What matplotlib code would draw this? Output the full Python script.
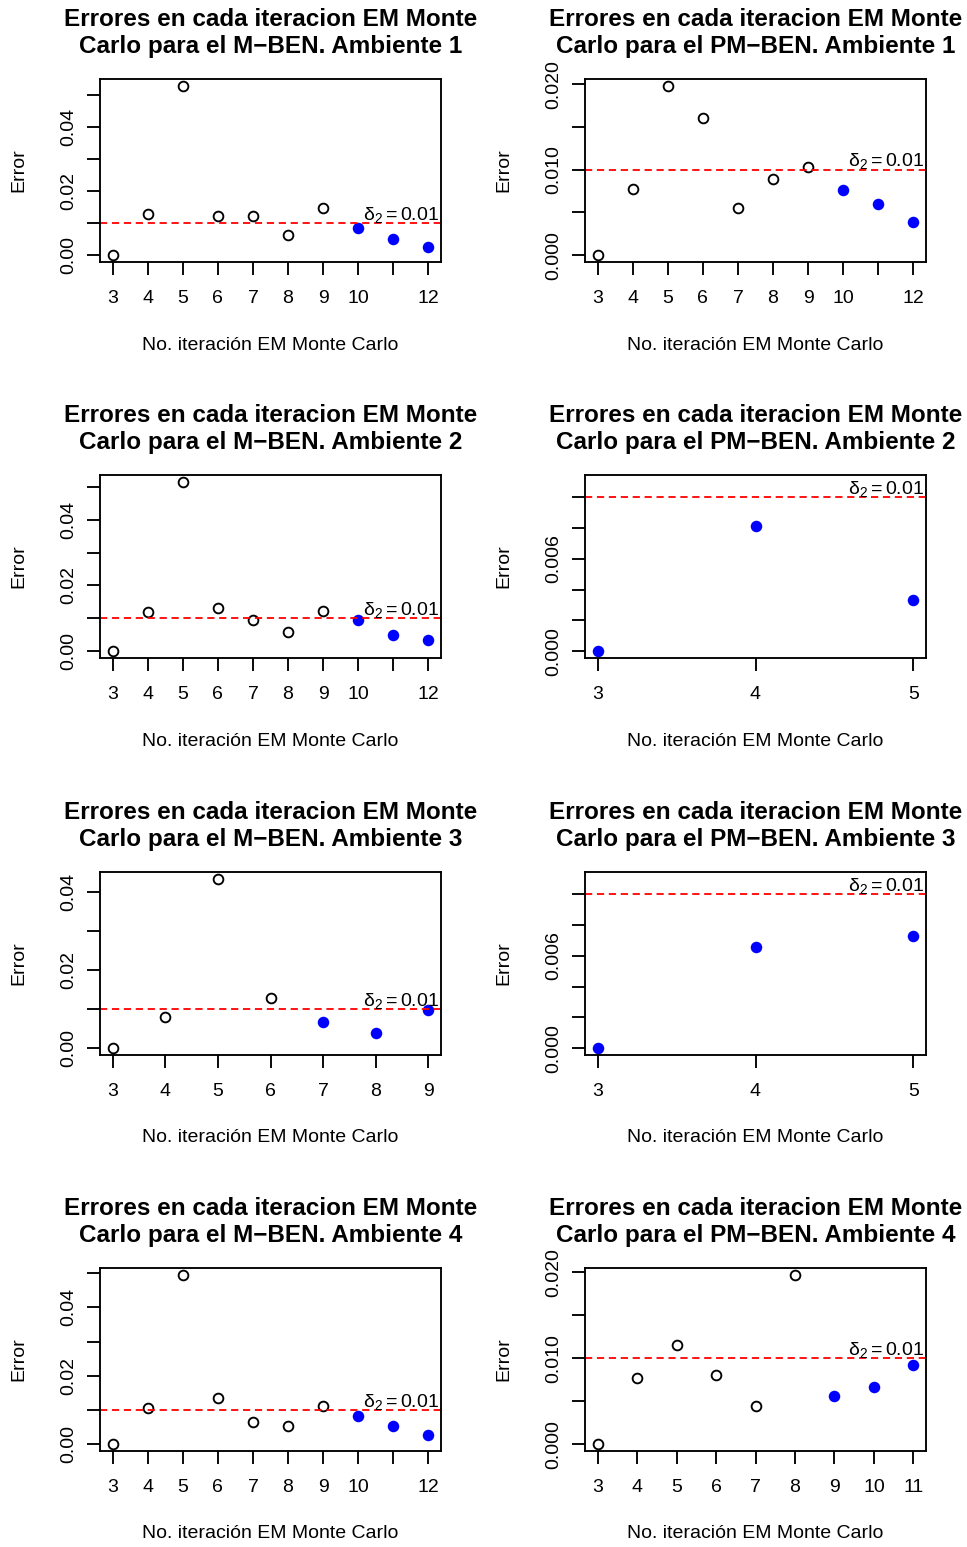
import matplotlib
matplotlib.use("Agg")
import matplotlib.pyplot as plt

plt.rcParams['font.family'] = ['Liberation Sans', 'DejaVu Sans']
plt.rcParams['mathtext.fontset'] = 'custom'
plt.rcParams['mathtext.rm'] = 'Liberation Sans'
plt.rcParams['mathtext.it'] = 'Liberation Sans:italic'

# errores por iteracion EM Monte Carlo (M-BEN y PM-BEN, ambientes 1-4)
iter_m1 = [3, 4, 5, 6, 7, 8, 9, 10, 11, 12]
err_m1 = [0.0, 0.0129, 0.0528, 0.0121, 0.0121, 0.0063, 0.0148, 0.0085, 0.0052, 0.0026]
iter_pm1 = [3, 4, 5, 6, 7, 8, 9, 10, 11, 12]
err_pm1 = [0.0, 0.0077, 0.0198, 0.0160, 0.0055, 0.0089, 0.0103, 0.0076, 0.0060, 0.0039]

iter_m2 = [3, 4, 5, 6, 7, 8, 9, 10, 11, 12]
err_m2 = [0.0, 0.0120, 0.0515, 0.0130, 0.0096, 0.0059, 0.0121, 0.0095, 0.0050, 0.0035]
iter_pm2 = [3, 4, 5]
err_pm2 = [0.0, 0.0081, 0.0033]

iter_m3 = [3, 4, 5, 6, 7, 8, 9]
err_m3 = [0.0, 0.0081, 0.0434, 0.0129, 0.0067, 0.0038, 0.0099]
iter_pm3 = [3, 4, 5]
err_pm3 = [0.0, 0.0066, 0.0073]

iter_m4 = [3, 4, 5, 6, 7, 8, 9, 10, 11, 12]
err_m4 = [0.0, 0.0107, 0.0495, 0.0135, 0.0065, 0.0053, 0.0113, 0.0083, 0.0053, 0.0027]
iter_pm4 = [3, 4, 5, 6, 7, 8, 9, 10, 11]
err_pm4 = [0.0, 0.0077, 0.0115, 0.0081, 0.0045, 0.0197, 0.0056, 0.0066, 0.0092]

delta2 = 0.01
n_final = 3  # ultimas iteraciones (puntos azules)

# ticks del eje y y etiquetas visibles
yt_m = [0.0, 0.01, 0.02, 0.03, 0.04, 0.05]
yl_m = ['0.00', '', '0.02', '', '0.04', '']
yt_pm = [0.0, 0.005, 0.010, 0.015, 0.020]
yl_pm = ['0.000', '', '0.010', '', '0.020']
yt_small = [0.0, 0.002, 0.004, 0.006, 0.008, 0.010]
yl_small = ['0.000', '', '', '0.006', '', '']

W, H = 967, 1547
fig = plt.figure(figsize=(W / 100, H / 100), dpi=100)

col_x = [100, 585]
row_top = [79, 475, 872, 1268]
bw, bh = 341, 183
lw = 1.35


def panel(col, row, xs, ys, tipo, amb, yt, yl, skip11=True):
    x0, y0 = col_x[col], row_top[row]
    ax = fig.add_axes([x0 / W, 1 - (y0 + bh) / H, bw / W, bh / H])

    n = len(xs)
    ax.plot(xs[:n - n_final], ys[:n - n_final], 'o', ms=7.0, mfc='none',
            mec='black', mew=1.35, clip_on=False)
    ax.plot(xs[n - n_final:], ys[n - n_final:], 'o', ms=8.3, color='blue',
            mec='none', clip_on=False)
    ax.axhline(delta2, color='red', lw=1.3, ls=(0, (4.0, 2.6)))
    ax.annotate(r'$\mathrm{\delta}_2 = 0.01$', xy=(0.995, delta2),
                xycoords=('axes fraction', 'data'), xytext=(0, 2.5),
                textcoords='offset points', ha='right', va='baseline',
                fontsize=14)

    # rango estilo R (4% de margen)
    lo, hi = min(xs), max(xs)
    ax.set_xlim(lo - 0.04 * (hi - lo), hi + 0.04 * (hi - lo))
    top = max(max(ys), 0.011)
    ax.set_ylim(-0.04 * top, top * 1.04)

    ax.set_xticks(xs)
    ax.set_xticklabels(['' if (skip11 and x == 11) else str(x) for x in xs])
    ax.set_yticks(yt)
    ax.set_yticklabels(yl, rotation=90, va='center')
    ax.tick_params(direction='out', length=9.2, width=lw, labelsize=14)
    ax.tick_params(axis='x', pad=11)
    ax.tick_params(axis='y', pad=7.5)
    for s in ax.spines.values():
        s.set_linewidth(lw)

    ax.text(0.5, 1 + 46 / bh,
            f'Errores en cada iteracion EM Monte\nCarlo para el {tipo}. Ambiente {amb}',
            transform=ax.transAxes, ha='center', va='center',
            fontsize=17.5, fontweight='bold', linespacing=1.22)
    ax.text(0.5, -83 / bh, 'No. iteración EM Monte Carlo', transform=ax.transAxes,
            ha='center', va='center', fontsize=14)
    ax.text(-81 / bw, 0.5, 'Error', transform=ax.transAxes, rotation=90,
            ha='center', va='center', fontsize=14)


panel(0, 0, iter_m1, err_m1, 'M\u2212BEN', 1, yt_m, yl_m)
panel(1, 0, iter_pm1, err_pm1, 'PM\u2212BEN', 1, yt_pm, yl_pm)
panel(0, 1, iter_m2, err_m2, 'M\u2212BEN', 2, yt_m, yl_m)
panel(1, 1, iter_pm2, err_pm2, 'PM\u2212BEN', 2, yt_small, yl_small)
panel(0, 2, iter_m3, err_m3, 'M\u2212BEN', 3, yt_m[:5], yl_m[:5])
panel(1, 2, iter_pm3, err_pm3, 'PM\u2212BEN', 3, yt_small, yl_small)
panel(0, 3, iter_m4, err_m4, 'M\u2212BEN', 4, yt_m, yl_m)
panel(1, 3, iter_pm4, err_pm4, 'PM\u2212BEN', 4, yt_pm, yl_pm, skip11=False)

fig.savefig('out.png', dpi=100)
